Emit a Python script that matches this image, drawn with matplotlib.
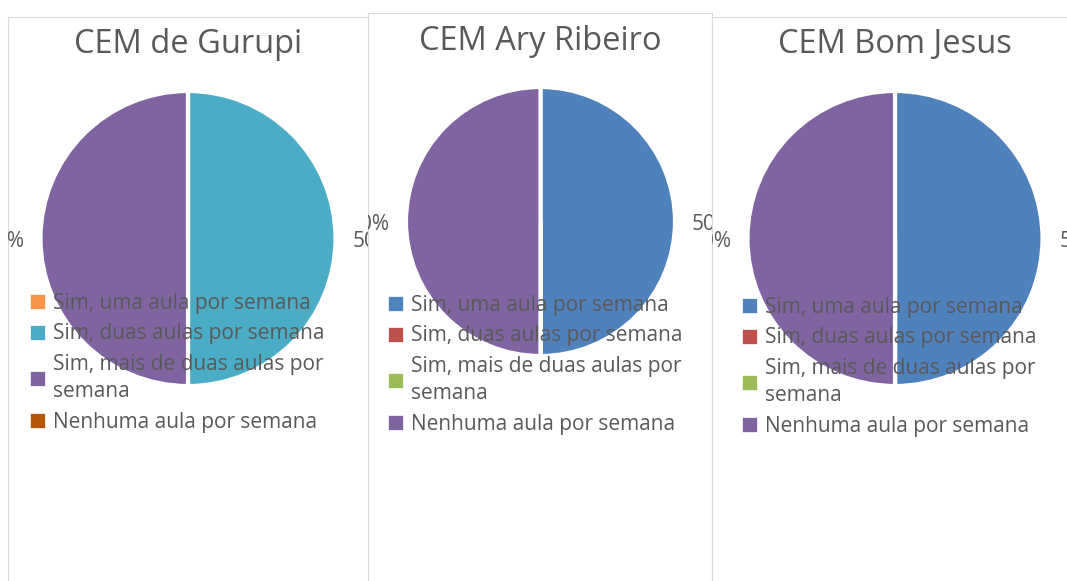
import matplotlib
matplotlib.use("Agg")
import matplotlib.pyplot as plt
import math

W, H = 1067, 581

titles = ["CEM de Gurupi", "CEM Ary Ribeiro", "CEM Bom Jesus"]
categories = ["Sim, uma aula por semana", "Sim, duas aulas por semana",
              "Sim, mais de duas aulas por\nsemana", "Nenhuma aula por semana"]
values_gurupi = [0, 50, 50, 0]
values_ary = [50, 0, 0, 50]
values_bom = [50, 0, 0, 50]
colors_gurupi = ["#F79646", "#4BACC6", "#8064A2", "#B65708"]
colors_other = ["#4F81BD", "#C0504D", "#9BBB59", "#8064A2"]

TXT = "#595959"
FONT = "Open Sans"
plt.rcParams['font.family'] = [FONT, 'DejaVu Sans']

fig = plt.figure(figsize=(W / 100, H / 100), dpi=100)
fig.patch.set_facecolor("white")

# panel boxes in pixels: left, top, right, bottom
panels = [
    dict(box=(8, 17, 390, 620), center=(188, 238.5), r=147.5, title_y=53,
         vals=values_gurupi, cols=colors_gurupi, title=titles[0], leg=(30, 293)),
    dict(box=(368, 13, 712, 620), center=(540.5, 221.5), r=134.5, title_y=50,
         vals=values_ary, cols=colors_other, title=titles[1], leg=(388, 295)),
    dict(box=(712, 17, 1100, 620), center=(895, 238.5), r=147.5, title_y=53,
         vals=values_bom, cols=colors_other, title=titles[2], leg=(742, 297)),
]

for i, p in enumerate(panels):
    l, t, r_, b = p["box"]
    ax = fig.add_axes([l / W, 1 - b / H, (r_ - l) / W, (b - t) / H])
    ax.set_zorder(i + 1)
    ax.set_facecolor("white")
    cx, cy = p["center"]
    R = p["r"]
    wedges, _ = ax.pie(p["vals"], colors=p["cols"], center=(cx, -cy), radius=R,
                       startangle=90, counterclock=False, frame=True,
                       wedgeprops=dict(edgecolor="white", linewidth=3))
    ax.set_xlim(l, r_)
    ax.set_ylim(-b, -t)
    ax.set_aspect("auto")
    ax.set_xticks([])
    ax.set_yticks([])
    for s in ax.spines.values():
        s.set_color("#D9D9D9")
        s.set_linewidth(0.8)

    ax.text(cx, -p["title_y"], p["title"], ha="center", va="baseline",
            fontsize=23.5, color=TXT)

    total = sum(p["vals"])
    for w, v in zip(wedges, p["vals"]):
        if v <= 0:
            continue
        mid = math.radians((w.theta1 + w.theta2) / 2)
        if math.cos(mid) >= 0:
            x, ha = cx + R + 17, "left"
        else:
            x, ha = cx - R - 16, "right"
        ax.text(x, -(cy + 9), f"{v / total * 100:.0f}%", ha=ha, va="baseline",
                fontsize=15, color=TXT, clip_on=True)

    lx, ly = p["leg"]
    leg = ax.legend(wedges, categories, loc="upper left",
                    bbox_to_anchor=(lx, -ly), bbox_transform=ax.transData,
                    frameon=False, fontsize=15, labelcolor=TXT,
                    handlelength=0.72, handleheight=0.72, handletextpad=0.38,
                    borderpad=0, borderaxespad=0, labelspacing=0.45)
    for txt in leg.get_texts():
        txt.set_linespacing(1.4)
    for h in leg.legend_handles:
        h.set_edgecolor("white")
        h.set_linewidth(0.5)

fig.savefig("out.png", dpi=100, facecolor="white")
